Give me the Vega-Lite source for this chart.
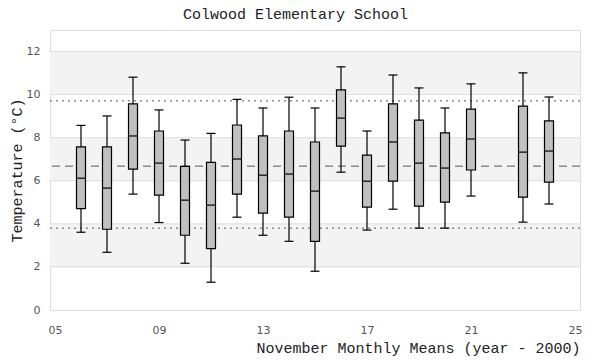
{
  "$schema": "https://vega.github.io/schema/vega-lite/v6.json",
  "width": 530,
  "height": 280,
  "autosize": {"type": "none"},
  "padding": {"left": 50, "top": 30, "right": 20, "bottom": 50},
  "background": "white",
  "config": {
    "view": {"stroke": "#dddddd", "strokeWidth": 1},
    "axis": {"labelFont": "DejaVu Sans", "labelFontSize": 11, "labelColor": "#555555", "titleFont": "Liberation Mono", "titleFontSize": 15, "titleFontWeight": "normal", "titleColor": "#222222", "domain": false, "ticks": false, "grid": false}
  },
  "title": {"text": "Colwood Elementary School", "font": "Liberation Mono", "fontSize": 15, "fontWeight": "normal", "color": "#222222", "anchor": "middle", "frame": "bounds", "offset": 8},
  "datasets": {
    "boxes": [
      {"year": 6, "lower": 3.61, "q1": 4.71, "median": 6.12, "q3": 7.57, "upper": 8.57},
      {"year": 7, "lower": 2.68, "q1": 3.75, "median": 5.66, "q3": 7.57, "upper": 9.01},
      {"year": 8, "lower": 5.38, "q1": 6.54, "median": 8.08, "q3": 9.57, "upper": 10.81},
      {"year": 9, "lower": 4.06, "q1": 5.33, "median": 6.82, "q3": 8.31, "upper": 9.29},
      {"year": 10, "lower": 2.17, "q1": 3.47, "median": 5.10, "q3": 6.67, "upper": 7.89},
      {"year": 11, "lower": 1.29, "q1": 2.85, "median": 4.87, "q3": 6.85, "upper": 8.20},
      {"year": 12, "lower": 4.31, "q1": 5.38, "median": 7.01, "q3": 8.59, "upper": 9.78},
      {"year": 13, "lower": 3.47, "q1": 4.50, "median": 6.26, "q3": 8.08, "upper": 9.38},
      {"year": 14, "lower": 3.19, "q1": 4.31, "median": 6.31, "q3": 8.31, "upper": 9.88},
      {"year": 15, "lower": 1.80, "q1": 3.19, "median": 5.52, "q3": 7.80, "upper": 9.38},
      {"year": 16, "lower": 6.40, "q1": 7.61, "median": 8.91, "q3": 10.22, "upper": 11.29},
      {"year": 17, "lower": 3.71, "q1": 4.78, "median": 5.98, "q3": 7.19, "upper": 8.31},
      {"year": 18, "lower": 4.68, "q1": 5.98, "median": 7.80, "q3": 9.57, "upper": 10.91},
      {"year": 19, "lower": 3.80, "q1": 4.82, "median": 6.82, "q3": 8.82, "upper": 10.31},
      {"year": 20, "lower": 3.80, "q1": 5.01, "median": 6.59, "q3": 8.22, "upper": 9.38},
      {"year": 21, "lower": 5.29, "q1": 6.50, "median": 7.94, "q3": 9.33, "upper": 10.50},
      {"year": 23, "lower": 4.08, "q1": 5.24, "median": 7.33, "q3": 9.47, "upper": 11.01},
      {"year": 24, "lower": 4.92, "q1": 5.94, "median": 7.38, "q3": 8.78, "upper": 9.89}
    ],
    "bands": [{"lo": 2, "hi": 4}, {"lo": 6, "hi": 8}, {"lo": 10, "hi": 12}],
    "grid": [{"g": 2}, {"g": 4}, {"g": 6}, {"g": 8}, {"g": 10}, {"g": 12}],
    "refs": [{"v": 9.71, "kind": "dot"}, {"v": 6.68, "kind": "dash"}, {"v": 3.80, "kind": "dot"}]
  },
  "layer": [
    {
      "data": {"name": "bands"},
      "mark": {"type": "rect", "color": "#f3f3f3"},
      "encoding": {
        "y": {"field": "lo", "type": "quantitative", "scale": {"domain": [0, 13], "nice": false}, "axis": {"values": [0, 2, 4, 6, 8, 10, 12], "title": "Temperature (°C)", "labelPadding": 10, "titlePadding": 2}},
        "y2": {"field": "hi"}
      }
    },
    {
      "data": {"name": "grid"},
      "mark": {"type": "rule", "color": "#dddddd", "strokeWidth": 1},
      "encoding": {"y": {"field": "g", "type": "quantitative"}}
    },
    {
      "data": {"name": "refs"},
      "transform": [{"filter": "datum.kind === 'dot'"}],
      "mark": {"type": "rule", "color": "#555555", "strokeWidth": 1, "strokeDash": [2, 4]},
      "encoding": {"y": {"field": "v", "type": "quantitative"}}
    },
    {
      "data": {"name": "refs"},
      "transform": [{"filter": "datum.kind === 'dash'"}],
      "mark": {"type": "rule", "color": "#555555", "strokeWidth": 1, "strokeDash": [8, 5]},
      "encoding": {"y": {"field": "v", "type": "quantitative"}}
    },
    {
      "data": {"name": "boxes"},
      "mark": {"type": "rule", "color": "black", "strokeWidth": 1.2},
      "encoding": {
        "x": {"field": "year", "type": "quantitative", "scale": {"domain": [5, 25], "nice": false}, "axis": {"values": [5, 9, 13, 17, 21, 25], "format": "02d", "title": "November Monthly Means (year - 2000)", "titleAnchor": "end", "labelPadding": 14, "titlePadding": 5}},
        "y": {"field": "lower", "type": "quantitative"},
        "y2": {"field": "upper"}
      }
    },
    {
      "data": {"name": "boxes"},
      "mark": {"type": "bar", "fill": "#c0c0c0", "stroke": "black", "strokeWidth": 1.2, "size": 9},
      "encoding": {
        "x": {"field": "year", "type": "quantitative"},
        "y": {"field": "q1", "type": "quantitative"},
        "y2": {"field": "q3"}
      }
    },
    {
      "data": {"name": "boxes"},
      "mark": {"type": "tick", "orient": "horizontal", "color": "black", "size": 9, "thickness": 1.2, "opacity": 1},
      "encoding": {
        "x": {"field": "year", "type": "quantitative"},
        "y": {"field": "median", "type": "quantitative"}
      }
    },
    {
      "data": {"name": "boxes"},
      "mark": {"type": "tick", "orient": "horizontal", "color": "black", "size": 9, "thickness": 1.2, "opacity": 1},
      "encoding": {
        "x": {"field": "year", "type": "quantitative"},
        "y": {"field": "lower", "type": "quantitative"}
      }
    },
    {
      "data": {"name": "boxes"},
      "mark": {"type": "tick", "orient": "horizontal", "color": "black", "size": 9, "thickness": 1.2, "opacity": 1},
      "encoding": {
        "x": {"field": "year", "type": "quantitative"},
        "y": {"field": "upper", "type": "quantitative"}
      }
    }
  ]
}
